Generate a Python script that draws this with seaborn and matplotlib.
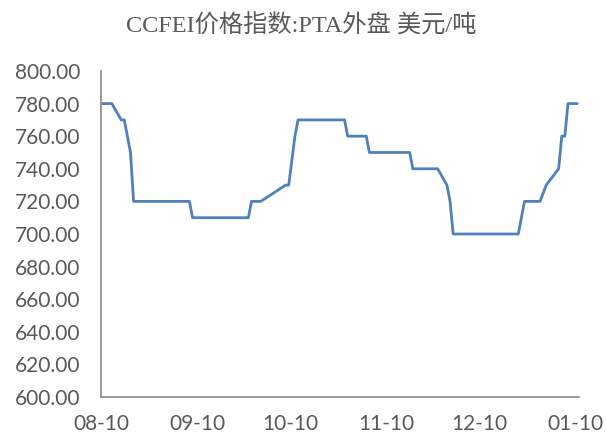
import matplotlib
matplotlib.use("Agg")
import matplotlib.pyplot as plt
import matplotlib.dates as mdates
import pandas as pd
import seaborn as sns

# CCFEI PTA external price index (USD/t), breakpoints
dates = [
    "2018-08-10 00:00", "2018-08-13 12:00", "2018-08-16 12:00", "2018-08-17 12:00",
    "2018-08-19 12:00", "2018-08-20 12:00", "2018-09-07 12:00", "2018-09-08 12:00",
    "2018-09-26 12:00", "2018-09-27 12:00", "2018-09-30 12:00", "2018-10-08 12:00",
    "2018-10-09 12:00", "2018-10-11 12:00", "2018-10-12 12:00", "2018-10-27 12:00",
    "2018-10-28 12:00", "2018-11-03 12:00", "2018-11-04 12:00", "2018-11-17 12:00",
    "2018-11-18 12:00", "2018-11-26 12:00", "2018-11-29 12:00", "2018-11-30 12:00",
    "2018-12-01 12:00", "2018-12-22 12:00", "2018-12-24 12:00", "2018-12-29 12:00",
    "2018-12-31 12:00", "2019-01-04 12:00", "2019-01-05 12:00", "2019-01-06 12:00",
    "2019-01-07 12:00", "2019-01-10 12:00",
]
prices = [
    780, 780, 770, 770,
    750, 720, 720, 710,
    710, 720, 720, 730,
    730, 760, 770, 770,
    760, 760, 750, 750,
    740, 740, 730, 720,
    700, 700, 720, 720,
    730, 740, 760, 760,
    780, 780,
]
tick_dates = ["2018-08-10", "2018-09-10", "2018-10-10", "2018-11-10", "2018-12-10", "2019-01-10"]
title = "CCFEI价格指数:PTA外盘 美元/吨"

df = pd.DataFrame({"date": pd.to_datetime(dates, format="%Y-%m-%d %H:%M"), "price": prices})

sns.set_style("white")
plt.rcParams["font.family"] = ["Lato", "DejaVu Sans"]

fig = plt.figure(figsize=(6.06, 4.36), dpi=100)
ax = fig.add_axes([0.1667, 0.0894, 0.788, 0.7478])

sns.lineplot(data=df, x="date", y="price", ax=ax, color="#4F81BD", linewidth=2.0)

ax.set_xlim(pd.Timestamp("2018-08-10"), pd.Timestamp("2019-01-10 22:00"))
ax.set_ylim(600, 800)
ax.set_yticks(range(600, 801, 20))
ax.yaxis.set_major_formatter(matplotlib.ticker.StrMethodFormatter("{x:.2f}"))
ax.set_xticks(pd.to_datetime(tick_dates))
ax.xaxis.set_major_formatter(mdates.DateFormatter("%m-%d"))
ax.set_xlabel("")
ax.set_ylabel("")

sns.despine(ax=ax)
for side in ["left", "bottom"]:
    ax.spines[side].set_color("#898989")
    ax.spines[side].set_linewidth(1.2)
ax.tick_params(axis="both", which="major", direction="out", length=5, width=1.2,
               color="#898989", labelcolor="#595959", labelsize=15)
ax.tick_params(axis="y", pad=10)
ax.tick_params(axis="x", pad=7.5)

fig.text(0.497, 0.94, title, ha="center", va="center", fontsize=17.5, color="#595959",
         family=["Liberation Serif", "Noto Sans CJK SC"])

fig.savefig("out.png", dpi=100)
